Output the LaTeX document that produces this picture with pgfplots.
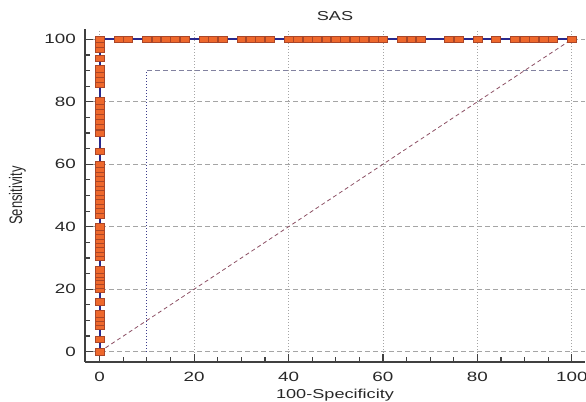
\documentclass[border=0pt]{standalone}
\usepackage{fontspec}
\setmainfont{Liberation Sans}[FakeStretch=1.4]
\newfontfamily\plainsans{Liberation Sans}
\usepackage{graphicx}
\usepackage{pgfplots}
\pgfplotsset{compat=1.18}

\definecolor{roc}{RGB}{40,40,140}
\definecolor{mfill}{RGB}{238,104,44}
\definecolor{mdraw}{RGB}{170,70,40}
\definecolor{axisgray}{RGB}{64,64,64}
\definecolor{gridgray}{RGB}{165,165,165}
\definecolor{diag}{RGB}{140,80,100}
\definecolor{crit}{RGB}{60,60,140}
\definecolor{crith}{RGB}{130,130,160}
\definecolor{txt}{RGB}{40,40,40}

\begin{document}
\begin{tikzpicture}
\path[use as bounding box] (0,0) rectangle (586bp,402bp);
\begin{axis}[
    at={(85bp,40.3bp)}, anchor=south west,
    scale only axis, width=500bp, height=332.4bp,
    xmin=-3.11, xmax=102.8,
    ymin=-3.2, ymax=103.2,
    axis x line=bottom, axis y line=left,
    axis line style={-, axisgray, line width=1.8bp},
    xtick={0,20,...,100}, ytick={0,20,...,100},
    minor x tick num=3, minor y tick num=3,
    tick align=inside,
    major tick length=8bp, minor tick length=4.5bp,
    tick style={axisgray, line width=1.2bp},
    xmajorgrids, ymajorgrids,
    x grid style={gridgray, dash pattern=on 1bp off 2bp, line width=0.8bp},
    y grid style={gridgray, dash pattern=on 5bp off 3bp, line width=0.8bp},
    /pgf/number format/assume math mode=true,
    ticklabel style={font=\fontsize{13.5}{15}\selectfont, text=txt},
    xticklabel style={anchor=north, inner sep=0pt, yshift=-10bp},
    yticklabel style={anchor=east, inner sep=0pt, xshift=-9bp},
    title={SAS},
    title style={at={(axis description cs:0.5,1.022)}, anchor=center,
        font=\fontsize{13}{15}\selectfont, text=txt},
    xlabel={100-Specificity},
    xlabel style={at={(axis description cs:0.5,-0.1)}, anchor=center,
        font=\fontsize{13}{15}\selectfont, text=txt},
    ylabel={\scalebox{1}[1.4]{\plainsans\fontsize{13}{15}\selectfont Sensitivity}},
    ylabel style={at={(axis description cs:-0.135,0.5)}, anchor=center, text=txt},
    clip=false,
]

% reference diagonal
\addplot[diag, dash pattern=on 4bp off 3bp, line width=0.8bp]
    coordinates {(0,0) (100,100)};

% criterion lines
\addplot[crit, dash pattern=on 1bp off 2bp, line width=0.9bp]
    coordinates {(10,0) (10,90)};
\addplot[crith, dash pattern=on 5bp off 3bp, line width=0.8bp]
    coordinates {(10,90) (100,90)};

% ROC curve
\addplot[roc, line width=1.8bp, mark=square*, mark size=3.3bp,
    mark options={xscale=1.35, fill=mfill, draw=mdraw, line width=0.6bp, solid}]
    coordinates {
    (0,0) (0,4.0) (0,8.1) (0,9.4) (0,10.8) (0,12.1) (0,15.9)
    (0,20.0) (0,21.3) (0,22.5) (0,23.8) (0,25.0) (0,26.3)
    (0,30.2) (0,31.6) (0,33.0) (0,34.4) (0,35.7) (0,37.1) (0,38.5) (0,39.9)
    (0,43.9) (0,45.3) (0,46.8) (0,48.3) (0,49.7) (0,51.2) (0,52.7)
    (0,54.1) (0,55.6) (0,57.1) (0,58.5) (0,60.0)
    (0,64.2) (0,69.9)
    (0,72.3) (0,73.9) (0,75.5) (0,77.1) (0,78.7) (0,80.3)
    (0,85.7) (0,87.3) (0,88.9) (0,90.5) (0,93.9)
    (0,96.8) (0,98.4) (0,100)
    (4,100) (6,100)
    (10,100) (12,100) (14,100) (16,100) (18,100)
    (22,100) (24,100) (26,100)
    (30,100) (32,100) (34,100) (36,100)
    (40,100) (42,100) (44,100) (46,100) (48,100) (50,100)
    (52,100) (54,100) (56,100) (58,100) (60,100)
    (64,100) (66,100) (68,100)
    (74,100) (76,100) (80,100) (84,100)
    (88,100) (90,100) (92,100) (94,100) (96,100) (100,100)
    };

\end{axis}
\end{tikzpicture}
\end{document}
